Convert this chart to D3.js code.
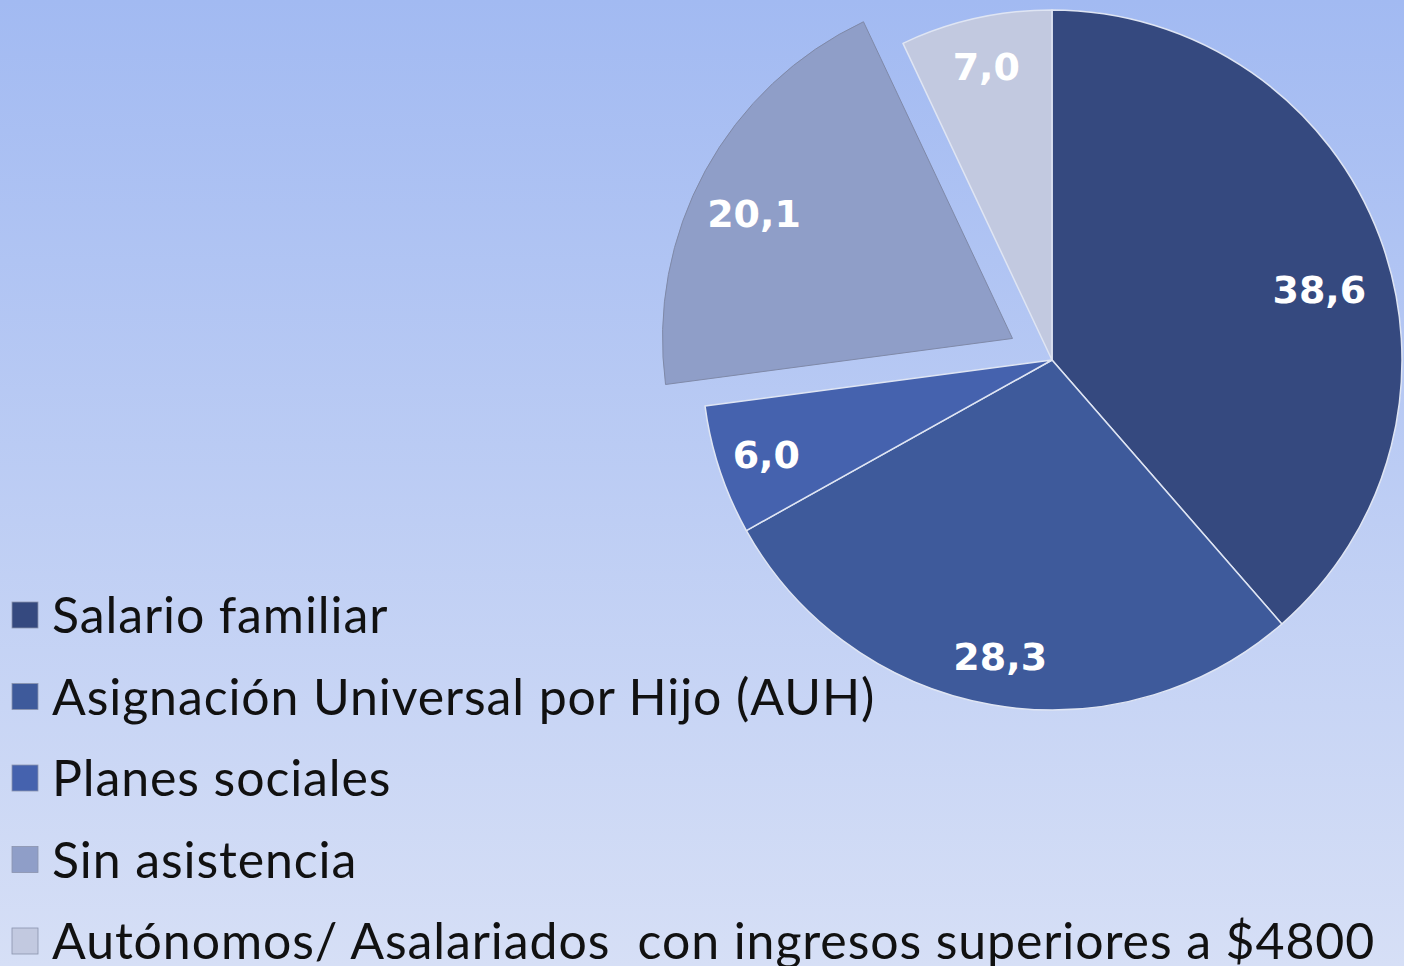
<!DOCTYPE html>
<meta charset="utf-8">
<title>Asistencia</title>
<style>
  html, body { margin: 0; padding: 0; overflow: hidden; }
</style>
<div id="viz"></div>
<script src="https://cdn.jsdelivr.net/npm/d3@7/dist/d3.min.js"></script>
<script>

var categories = [
  "Salario familiar",
  "Asignación Universal por Hijo (AUH)",
  "Planes sociales",
  "Sin asistencia",
  "Autónomos/ Asalariados  con ingresos superiores a $4800"
];
var values = [38.6, 28.3, 6.0, 20.1, 7.0];
var valueLabels = ["38,6", "28,3", "6,0", "20,1", "7,0"];
var exploded = [false, false, false, true, false];
var colors = ["#35497f", "#3e5a9b", "#4562ae", "#8f9ec8", "#c2c9e0"];

var width = 1404;
var height = 966;
var cx = 1052, cy = 360, radius = 350;
var explodeDist = 45;

var svg = d3.select("#viz")
  .append("svg")
  .attr("width", width)
  .attr("height", height);

var grad = svg.append("defs").append("linearGradient")
  .attr("id", "bg")
  .attr("x1", 0).attr("y1", 0).attr("x2", 0).attr("y2", 1);
grad.append("stop").attr("offset", "0%").attr("stop-color", "#a2baf2");
grad.append("stop").attr("offset", "100%").attr("stop-color", "#d6dff6");

svg.append("rect")
  .attr("width", width)
  .attr("height", height)
  .attr("fill", "url(#bg)");

var data = categories.map(function(c, i) {
  return { name: c, value: values[i], label: valueLabels[i], explode: exploded[i], color: colors[i] };
});

var pie = d3.pie().sort(null).value(function(d) { return d.value; });
var arcs = pie(data);

var arc = d3.arc().innerRadius(0).outerRadius(radius);

// big slices get their label pulled in a bit (best-fit style)
function labelPos(d) {
  var a = (d.startAngle + d.endAngle) / 2;
  var r = radius * 0.86;
  if (d.endAngle - d.startAngle > Math.PI * 0.7) {
    a += 0.1;
    r = radius * 0.79;
  } else if (d.data.explode) {
    a -= 0.05;
    r = radius * 0.82;
  }
  return [Math.sin(a) * r, -Math.cos(a) * r];
}

function shift(d) {
  if (!d.data.explode) return [0, 0];
  var a = (d.startAngle + d.endAngle) / 2;
  return [Math.sin(a) * explodeDist, -Math.cos(a) * explodeDist];
}

var g = svg.append("g").attr("transform", "translate(" + cx + "," + cy + ")");

var slice = g.selectAll("g.slice")
  .data(arcs)
  .enter().append("g")
  .attr("class", "slice")
  .attr("transform", function(d) {
    var s = shift(d);
    return "translate(" + s[0] + "," + s[1] + ")";
  });

slice.append("path")
  .attr("d", arc)
  .attr("fill", function(d) { return d.data.color; })
  .attr("stroke", function(d) { return d.data.explode ? "#7f89a8" : "#dfe5f3"; })
  .attr("stroke-width", function(d) { return d.data.explode ? 1 : 1.5; })
  .attr("stroke-linejoin", "round");

slice.append("text")
  .attr("transform", function(d) { return "translate(" + labelPos(d) + ")"; })
  .attr("text-anchor", "middle")
  .attr("dy", "0.36em")
  .attr("fill", "#ffffff")
  .attr("font-family", "'DejaVu Sans', sans-serif")
  .attr("font-weight", "bold")
  .attr("font-size", 38)
  .text(function(d) { return d.data.label; });

// legend
var legend = svg.append("g").attr("transform", "translate(12,615)");
var row = legend.selectAll("g")
  .data(data)
  .enter().append("g")
  .attr("transform", function(d, i) { return "translate(0," + (i * 81.5) + ")"; });

row.append("rect")
  .attr("x", 0).attr("y", -13)
  .attr("width", 26).attr("height", 26)
  .attr("fill", function(d) { return d.color; })
  .attr("stroke", "#8a93ad")
  .attr("stroke-width", 0.8);

row.append("text")
  .attr("x", 40)
  .attr("dy", "0.36em")
  .attr("fill", "#111111")
  .attr("font-family", "'Lato', sans-serif")
  .attr("font-size", 50)
  .attr("letter-spacing", 0.9)
  .style("white-space", "pre")
  .text(function(d) { return d.name; });

</script>
